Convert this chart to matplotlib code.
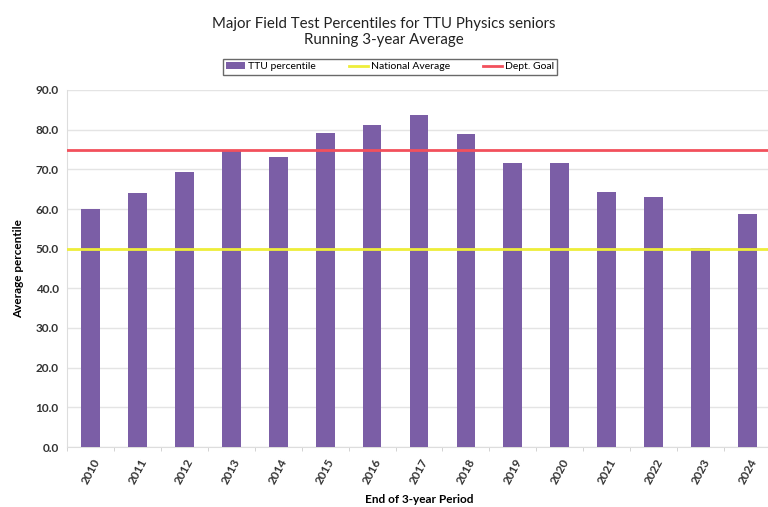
import matplotlib
matplotlib.use('Agg')
import matplotlib.pyplot as plt
import numpy as np

plt.rcParams['font.family'] = ['Lato', 'DejaVu Sans']

years = ['2010', '2011', '2012', '2013', '2014', '2015', '2016', '2017',
         '2018', '2019', '2020', '2021', '2022', '2023', '2024']
ttu = [60.0, 64.1, 69.4, 74.9, 73.2, 79.1, 81.3, 83.6,
       78.9, 71.6, 71.6, 64.2, 62.9, 50.2, 58.7]
national_avg = 50.0
dept_goal = 75.0

fig = plt.figure(figsize=(7.68, 5.07), dpi=100)
ax = fig.add_axes([67/768, 60/507, (771-67)/768, 357/507])

x = np.arange(len(years))
bars = ax.bar(x, ttu, width=0.4, color='#7b5ea6', label='TTU percentile', zorder=3)
l1 = ax.axhline(national_avg, color='#eeee3a', lw=2, label='National Average', zorder=4)
l2 = ax.axhline(dept_goal, color='#f2505c', lw=2, label='Dept. Goal', zorder=4)

ax.set_xlim(-0.5, len(years) - 0.5)
ax.set_ylim(0, 90)
ax.set_yticks(np.arange(0, 91, 10))
ax.set_yticklabels(['%.1f' % v for v in np.arange(0, 91, 10)], fontsize=8.5, fontweight='bold', color='#333333')
ax.set_xticks(x)
ax.set_xticklabels(years, rotation=62, fontsize=8.5, fontweight='bold', color='#333333')
ax.tick_params(axis='x', length=0, pad=7)
ax.tick_params(axis='y', length=0, pad=6)
# small tick marks between categories
ax.set_xticks(np.arange(-0.5, len(years), 1), minor=True)
ax.tick_params(axis='x', which='minor', length=3, color='#cccccc')

ax.grid(axis='y', color='#e4e4e4', lw=1, zorder=0)
for s in ['top', 'right']:
    ax.spines[s].set_visible(False)
ax.spines['left'].set_color('#dddddd')
ax.spines['bottom'].set_color('#dddddd')

ax.set_xlabel('End of 3-year Period', fontsize=8.5, fontweight='bold', labelpad=6)
ax.set_ylabel('Average percentile', fontsize=8.5, fontweight='bold', labelpad=8)

fig.text(0.5, 0.967, 'Major Field Test Percentiles for TTU Physics seniors\nRunning 3-year Average',
         ha='center', va='top', fontsize=10.8, linespacing=1.2, color='#222222')

leg = fig.legend([bars, l1, l2], ['TTU percentile', 'National Average', 'Dept. Goal'],
                 loc='center', bbox_to_anchor=(0.508, 0.868), ncol=3, fontsize=7.5,
                 frameon=True, fancybox=False, edgecolor='#444444', handlelength=1.8,
                 columnspacing=3.2, borderpad=0.3, handleheight=0.6, handletextpad=0.3)
leg.get_frame().set_linewidth(1)

fig.savefig('out.png', dpi=100)
